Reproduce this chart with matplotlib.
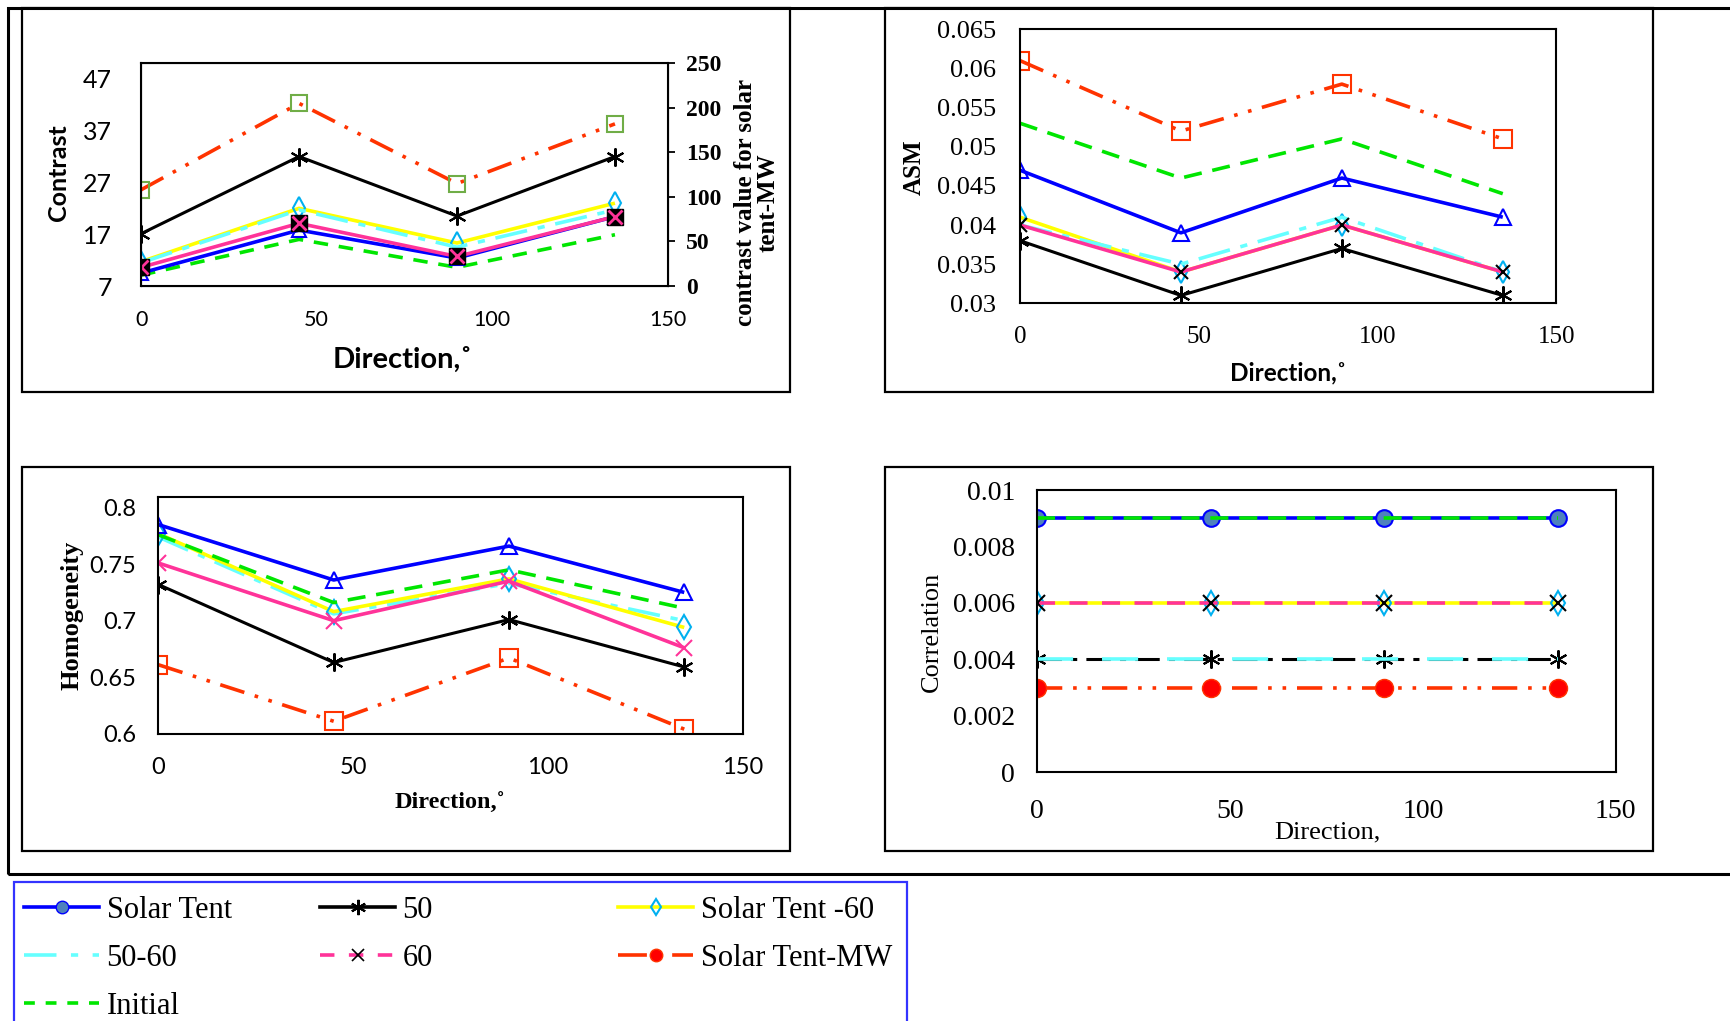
import matplotlib
matplotlib.use("Agg")
import matplotlib.pyplot as plt
from matplotlib.lines import Line2D
from matplotlib.patches import Rectangle

W, H = 1730, 1021

directions = [0, 45, 90, 135]
series = ["Solar Tent", "50", "Solar Tent -60", "50-60", "60", "Solar Tent-MW", "Initial"]

# rows follow `series` order
contrast = [
    [9.5, 17.8, 12.4, 20.4],
    [17.1, 32.0, 20.5, 32.0],
    [11.7, 22.0, 15.3, 23.0],
    [11.5, 21.7, 14.5, 21.7],
    [10.6, 19.1, 12.7, 20.4],
    None,  # MW is on the right axis
    [9.1, 16.0, 10.6, 16.9],
]
contrast_mw = [108, 205, 115, 182]

asm = [
    [0.047, 0.039, 0.046, 0.041],
    [0.038, 0.031, 0.037, 0.031],
    [0.041, 0.034, 0.040, 0.034],
    [0.040, 0.035, 0.041, 0.034],
    [0.040, 0.034, 0.040, 0.034],
    [0.061, 0.052, 0.058, 0.051],
    [0.053, 0.046, 0.051, 0.044],
]

homogeneity = [
    [0.785, 0.736, 0.766, 0.725],
    [0.732, 0.663, 0.701, 0.659],
    [0.777, 0.708, 0.737, 0.694],
    [0.774, 0.706, 0.733, 0.700],
    [0.751, 0.700, 0.735, 0.676],
    [0.661, 0.611, 0.667, 0.604],
    [0.776, 0.716, 0.745, 0.711],
]

correlation = [
    [0.009, 0.009, 0.009, 0.009],
    [0.004, 0.004, 0.004, 0.004],
    [0.006, 0.006, 0.006, 0.006],
    [0.004, 0.004, 0.004, 0.004],
    [0.006, 0.006, 0.006, 0.006],
    [0.003, 0.003, 0.003, 0.003],
    [0.009, 0.009, 0.009, 0.009],
]

colors = ["#0000ff", "#000000", "#ffff00", "#66ffff", "#ff3399", "#ff3300", "#00e600"]
dashes = [None, None, None, (9, 3, 2, 3), None, (7, 3, 1, 3, 1, 3), (5, 3)]
widths = [2.6, 2.2, 2.6, 2.6, 2.6, 2.6, 2.6]
ASTER = (6, 2, 0)

SERIF = ["Liberation Serif", "DejaVu Serif"]
SANS = ["Lato", "DejaVu Sans"]

fig = plt.figure(figsize=(W / 100, H / 100), dpi=100)


def box(l, t, r, b):
    return [l / W, 1 - b / H, (r - l) / W, (b - t) / H]


def ftext(x, y, s, **kw):
    fig.text(x / W, 1 - y / H, s, ha="center", va="center", **kw)


def frame(l, t, r, b, color="black", lw=1.6):
    fig.patches.append(Rectangle((l / W, 1 - b / H), (r - l) / W, (b - t) / H,
                                 transform=fig.transFigure, fill=False,
                                 edgecolor=color, linewidth=lw))


# outer frame and panel frames
frame(8, 8, 1760, 874, lw=2.2)
frame(22, 8, 790, 392)
frame(885, 8, 1653, 392)
frame(22, 467, 790, 851)
frame(885, 467, 1653, 851)
frame(14, 882, 907, 1060, color="#3333ff", lw=1.6)


def draw(ax, vals, markers, styles=None, order=None):
    idx = order if order is not None else range(len(series))
    for i in idx:
        v = vals[i]
        if v is None:
            continue
        m = markers[i]
        kw = dict(color=colors[i], lw=widths[i], solid_capstyle="butt")
        if styles and styles.get(i):
            kw["dashes"] = styles[i]
        elif dashes[i]:
            kw["dashes"] = dashes[i]
        if m:
            kw.update(m)
        ax.plot(directions, v, **kw)


def style_axes(ax):
    for s in ax.spines.values():
        s.set_linewidth(1.5)
    ax.set_xlim(0, 150)
    ax.set_xticks([0, 50, 100, 150])
    ax.tick_params(length=0)


# ---- panel 1: contrast
ax1 = fig.add_axes(box(141.1, 63.3, 667.6, 286))
style_axes(ax1)
ax1.set_ylim(7, 50)
ax1.set_yticks([7, 17, 27, 37, 47])
ax1.tick_params(axis="y", pad=21)
ax1.tick_params(axis="x", pad=17)
for lab in ax1.get_yticklabels():
    lab.set_fontsize(18)
    lab.set_family(SANS)
for lab in ax1.get_xticklabels():
    lab.set_fontsize(15.5)
    lab.set_family(SANS)
m1 = [
    dict(marker="^", ms=10, mfc="none", mec="#0000ff", mew=1.5),
    dict(marker=ASTER, ms=13, mec="black", mew=1.5),
    dict(marker="d", ms=11, mfc="none", mec="#00b0f0", mew=1.5),
    None,
    dict(marker="s", ms=11, mfc="black", mec="black"),
    None,
    None,
]
draw(ax1, contrast, m1, styles={4: None, 6: (4, 3)}, order=[6, 0, 2, 3, 4, 1])
ax1.plot(directions, contrast[4], ls="none", marker="x", ms=10, mec="#ff3399", mew=2)
ax1b = ax1.twinx()
ax1b.set_ylim(0, 250)
ax1b.set_yticks([0, 50, 100, 150, 200, 250])
ax1b.tick_params(axis="y", length=5, width=1.3, pad=8, labelsize=17)
for lab in ax1b.get_yticklabels():
    lab.set_family(SERIF)
    lab.set_fontweight("bold")
ax1b.plot(directions, contrast_mw, color=colors[5], lw=2.6, dashes=dashes[5],
          marker="s", ms=12, mfc="none", mec="#70ad47", mew=1.5)
ftext(59, 173, "Contrast", rotation=90, fontsize=18, fontweight="bold", family=SANS)
ftext(757, 203, "contrast value for solar\ntent-MW", rotation=90, fontsize=18,
      fontweight="bold", family=SERIF, linespacing=1.0)
ftext(403, 360, "Direction,˚", fontsize=21, fontweight="bold", family=SANS)

# ---- panel 2: ASM
ax2 = fig.add_axes(box(1020, 29.3, 1556.4, 303.3))
style_axes(ax2)
ax2.set_ylim(0.03, 0.065)
ax2.set_yticks([0.03, 0.035, 0.04, 0.045, 0.05, 0.055, 0.06, 0.065])
ax2.set_yticklabels(["0.03", "0.035", "0.04", "0.045", "0.05", "0.055", "0.06", "0.065"])
ax2.tick_params(axis="y", pad=17, labelsize=19)
ax2.tick_params(axis="x", pad=16, labelsize=18)
for lab in ax2.get_yticklabels() + ax2.get_xticklabels():
    lab.set_family(SERIF)
m2 = [
    dict(marker="^", ms=11, mfc="none", mec="#0000ff", mew=1.5),
    dict(marker=ASTER, ms=13, mec="black", mew=1.5),
    dict(marker="d", ms=11, mfc="none", mec="#00b0f0", mew=1.5),
    None,
    dict(marker="x", ms=10, mec="black", mew=1.5),
    dict(marker="s", ms=13, mfc="none", mec="#ff3300", mew=1.5),
    None,
]
draw(ax2, asm, m2, order=[2, 3, 4, 1, 0, 6, 5])
ftext(914, 167, "ASM", rotation=90, fontsize=18, fontweight="bold", family=SERIF)
ftext(1288, 373, "Direction,˚", fontsize=17.5, fontweight="bold", family=SANS)

# ---- panel 3: homogeneity
ax3 = fig.add_axes(box(158.4, 496.7, 742.7, 733.7))
style_axes(ax3)
ax3.set_ylim(0.6, 0.8097)
ax3.set_yticks([0.6, 0.65, 0.7, 0.75, 0.8])
ax3.set_yticklabels(["0.6", "0.65", "0.7", "0.75", "0.8"])
ax3.tick_params(axis="y", pad=16, labelsize=17)
ax3.tick_params(axis="x", pad=17, labelsize=17)
for lab in ax3.get_yticklabels() + ax3.get_xticklabels():
    lab.set_family(SANS)
m3 = [
    dict(marker="^", ms=12, mfc="none", mec="#0000ff", mew=1.5),
    dict(marker=ASTER, ms=13, mec="black", mew=1.5),
    dict(marker="d", ms=12, mfc="none", mec="#00b0f0", mew=1.5),
    None,
    dict(marker="x", ms=12, mec="#ff3399", mew=1.5),
    dict(marker="s", ms=13, mfc="none", mec="#ff3300", mew=1.5),
    None,
]
draw(ax3, homogeneity, m3, order=[3, 2, 6, 4, 1, 0, 5])
ftext(72, 615, "Homogeneity", rotation=90, fontsize=19, fontweight="bold", family=SERIF)
ftext(450, 803, "Direction,˚", fontsize=17.5, fontweight="bold", family=SERIF)

# ---- panel 4: correlation
ax4 = fig.add_axes(box(1037.3, 490, 1615.8, 772.3))
style_axes(ax4)
ax4.set_ylim(0, 0.01)
ax4.set_yticks([0, 0.002, 0.004, 0.006, 0.008, 0.01])
ax4.set_yticklabels(["0", "0.002", "0.004", "0.006", "0.008", "0.01"])
ax4.tick_params(axis="y", pad=16, labelsize=20)
ax4.tick_params(axis="x", pad=19, labelsize=20)
for lab in ax4.get_yticklabels() + ax4.get_xticklabels():
    lab.set_family(SERIF)
m4 = [
    dict(marker="o", ms=12, mfc="#4f81bd", mec="#0000ff", mew=1.5),
    dict(marker=ASTER, ms=13, mec="black", mew=1.5),
    dict(marker="d", ms=12, mfc="none", mec="#00b0f0", mew=1.5),
    None,
    dict(marker="x", ms=11, mec="black", mew=1.5),
    dict(marker="o", ms=13, mfc="#ff0000", mec="#ff3300"),
    None,
]
p4 = {1: (8, 3, 2, 3), 3: (10, 8), 4: (5, 4)}
draw(ax4, correlation, m4, styles=p4, order=[0, 6, 2, 4, 1, 3, 5])
ftext(932, 632, "Correlation", rotation=90, fontsize=19, family=SERIF)
ftext(1327, 832, "Direction,", fontsize=19, family=SERIF)

# ---- legend (three columns)
leg_marks = [
    dict(marker="o", ms=9, mfc="#4f81bd", mec="#0000ff"),
    dict(marker=ASTER, ms=11, mec="black", mew=1.5),
    dict(marker="d", ms=8, mfc="none", mec="#00b0f0", mew=1.5),
    dict(),
    dict(marker="x", ms=8, mec="black", mew=1.2),
    dict(marker="o", ms=9, mfc="#ff0000", mec="#ff3300"),
    dict(),
]
leg_dash = [None, None, None, (9, 4, 2, 4, 2, 4), (4, 4), (8, 3, 1, 3), (3, 3)]
handles = []
for i, name in enumerate(series):
    kw = dict(color=colors[i], lw=2.6)
    if leg_dash[i]:
        kw["dashes"] = leg_dash[i]
    kw.update(leg_marks[i])
    handles.append(Line2D([], [], label=name, **kw))

cols = [[0, 3, 6], [1, 4], [2, 5]]
col_x = [18, 314, 612]
for cx, ids in zip(col_x, cols):
    fig.legend([handles[i] for i in ids], [series[i] for i in ids],
               loc="upper left", bbox_to_anchor=(cx / W, 1 - 890 / H),
               frameon=False, prop={"family": SERIF, "size": 22},
               handlelength=2.45, handletextpad=0.25, labelspacing=0.62,
               borderaxespad=0, borderpad=0.2)

fig.savefig("out.png", dpi=100)
